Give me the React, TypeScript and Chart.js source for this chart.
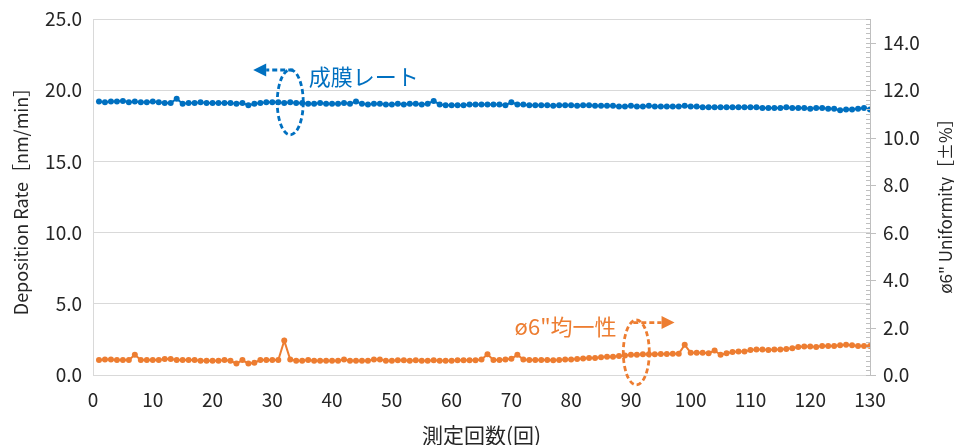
import React, { useEffect, useRef } from "react";
import { Chart, registerables } from "chart.js";

Chart.register(...registerables);

// ---- data ----
const runs: number[] = Array.from({ length: 130 }, (_, i) => i + 1);

const depositionRate: number[] = [
  19.20, 19.15, 19.20, 19.20, 19.25, 19.15, 19.20, 19.15, 19.15, 19.20,
  19.15, 19.10, 19.10, 19.40, 19.05, 19.10, 19.10, 19.15, 19.10, 19.10,
  19.10, 19.10, 19.10, 19.05, 19.10, 18.95, 19.05, 19.10, 19.15, 19.15,
  19.15, 19.10, 19.15, 19.10, 19.10, 19.05, 19.05, 19.10, 19.05, 19.05,
  19.05, 19.10, 19.05, 19.20, 19.05, 19.00, 19.05, 19.05, 19.00, 19.00,
  19.05, 19.00, 19.05, 19.05, 19.00, 19.05, 19.25, 19.00, 18.95, 18.95,
  18.95, 18.95, 19.00, 19.00, 19.00, 19.00, 19.00, 19.00, 18.95, 19.15,
  19.00, 19.00, 18.95, 18.95, 18.95, 18.95, 18.90, 18.95, 18.95, 18.95,
  18.90, 18.95, 18.95, 18.90, 18.90, 18.90, 18.90, 18.85, 18.85, 18.90,
  18.85, 18.85, 18.90, 18.85, 18.85, 18.85, 18.85, 18.85, 18.90, 18.85,
  18.85, 18.80, 18.80, 18.80, 18.80, 18.80, 18.80, 18.80, 18.80, 18.80,
  18.80, 18.75, 18.75, 18.75, 18.75, 18.80, 18.75, 18.75, 18.75, 18.70,
  18.75, 18.75, 18.70, 18.70, 18.60, 18.65, 18.65, 18.70, 18.75, 18.65,
];

const uniformity: number[] = [
  0.63, 0.65, 0.65, 0.63, 0.63, 0.63, 0.85, 0.63, 0.63, 0.63,
  0.63, 0.67, 0.67, 0.63, 0.63, 0.63, 0.63, 0.60, 0.60, 0.60,
  0.60, 0.63, 0.60, 0.48, 0.63, 0.48, 0.52, 0.63, 0.63, 0.63,
  0.63, 1.45, 0.65, 0.60, 0.60, 0.63, 0.60, 0.60, 0.60, 0.60,
  0.60, 0.65, 0.60, 0.60, 0.60, 0.60, 0.65, 0.65, 0.60, 0.60,
  0.62, 0.62, 0.60, 0.62, 0.60, 0.60, 0.62, 0.60, 0.60, 0.60,
  0.62, 0.62, 0.62, 0.62, 0.65, 0.87, 0.63, 0.63, 0.65, 0.68,
  0.85, 0.65, 0.63, 0.63, 0.63, 0.63, 0.62, 0.63, 0.65, 0.65,
  0.67, 0.70, 0.72, 0.72, 0.75, 0.77, 0.77, 0.80, 0.82, 0.85,
  0.85, 0.87, 0.87, 0.87, 0.88, 0.88, 0.90, 0.90, 1.27, 0.94,
  0.94, 0.94, 0.92, 1.03, 0.85, 0.92, 0.97, 0.99, 0.99, 1.05,
  1.07, 1.07, 1.05, 1.07, 1.07, 1.10, 1.13, 1.18, 1.20, 1.20,
  1.18, 1.22, 1.22, 1.22, 1.25, 1.27, 1.25, 1.22, 1.22, 1.22,
];

const xTitle = "測定回数(回)";
const leftTitle = "Deposition Rate［nm/min］";
const rightTitle = "ø6\" Uniformity［±%］";
const rateLabel = "成膜レート";
const uniformityLabel = "ø6\"均一性";

const BLUE = "#0070C0";
const ORANGE = "#ED7D31";
const GRID = "#d9d9d9";
const TEXT = "#262626";
const FONT = "'Noto Sans CJK JP', 'Noto Sans', sans-serif";

// annotation anchors in data units
const rateNote = { ex: 33, ey: 19.15, arrowY: 21.42, arrowTo: 26.8, textX: 36.1, textY: 20.95 };
const unifNote = { ex: 90.9, ey: 0.95, arrowY: 2.21, arrowTo: 97.3, textX: 87.6, textY: 2.03 };

function drawNote(ctx: CanvasRenderingContext2D, xs: any, ys: any, n: any, color: string, label: string, dir: number) {
  const cx = xs.getPixelForValue(n.ex);
  const cy = ys.getPixelForValue(n.ey);
  const ay = ys.getPixelForValue(n.arrowY);
  const tip = xs.getPixelForValue(n.arrowTo);
  const rx = 13, ry = 32.5;
  ctx.save();
  ctx.strokeStyle = color;
  ctx.fillStyle = color;
  ctx.lineWidth = 2.8;
  ctx.setLineDash([5, 3]);
  ctx.beginPath();
  ctx.ellipse(cx, cy, rx, ry, 0, 0, Math.PI * 2);
  ctx.stroke();
  const head = 13;
  ctx.beginPath();
  ctx.moveTo(cx + 3 * (-dir), ay);
  ctx.lineTo(tip - dir * head, ay);
  ctx.stroke();
  ctx.setLineDash([]);
  ctx.beginPath();
  ctx.moveTo(tip, ay);
  ctx.lineTo(tip - dir * head, ay - 6.5);
  ctx.lineTo(tip - dir * head, ay + 6.5);
  ctx.closePath();
  ctx.fill();
  ctx.font = `22px ${FONT}`;
  ctx.textBaseline = "middle";
  const tx = xs.getPixelForValue(n.textX);
  const ty = ys.getPixelForValue(n.textY);
  ctx.textAlign = dir < 0 ? "left" : "right";
  ctx.fillText(label, tx, ty);
  ctx.restore();
}

const extrasPlugin = {
  id: "extras",
  afterDraw(chart: any) {
    const { ctx, scales, chartArea } = chart;
    const xs = scales.x, yL = scales.y, yR = scales.y1;
    ctx.save();
    ctx.strokeStyle = "#bfbfbf";
    ctx.lineWidth = 1;
    ctx.beginPath();
    ctx.moveTo(chartArea.right + 0.5, chartArea.top);
    ctx.lineTo(chartArea.right + 0.5, chartArea.bottom);
    ctx.stroke();
    for (let k = 0; k <= 75; k++) {
      const v = k * 0.2;
      const py = Math.round(yR.getPixelForValue(v)) + 0.5;
      const major = k % 10 === 0;
      ctx.beginPath();
      ctx.moveTo(chartArea.right - 4, py);
      ctx.lineTo(chartArea.right + (major ? 6 : 1), py);
      ctx.stroke();
    }
    ctx.restore();
    ctx.save();
    ctx.fillStyle = TEXT;
    ctx.font = `17px ${FONT}`;
    ctx.textAlign = "center";
    ctx.textBaseline = "middle";
    ctx.translate(946, (chartArea.top + chartArea.bottom) / 2 + 5);
    ctx.rotate(-Math.PI / 2);
    ctx.fillText(rightTitle, 0, 0);
    ctx.restore();
    drawNote(ctx, xs, yL, rateNote, BLUE, rateLabel, -1);
    drawNote(ctx, xs, yR, unifNote, ORANGE, uniformityLabel, 1);
  },
};

export default function App() {
  const ref = useRef<HTMLCanvasElement | null>(null);
  useEffect(() => {
    if (!ref.current) return;
    const chart = new Chart(ref.current, {
      type: "line",
      data: {
        datasets: [
          {
            label: rateLabel,
            data: runs.map((r, i) => ({ x: r, y: depositionRate[i] })),
            yAxisID: "y",
            borderColor: BLUE,
            backgroundColor: BLUE,
            borderWidth: 2,
            pointRadius: 3,
            pointBorderWidth: 0,
            tension: 0,
          },
          {
            label: uniformityLabel,
            data: runs.map((r, i) => ({ x: r, y: uniformity[i] })),
            yAxisID: "y1",
            borderColor: ORANGE,
            backgroundColor: ORANGE,
            borderWidth: 2,
            pointRadius: 3,
            pointBorderWidth: 0,
            tension: 0,
          },
        ],
      },
      options: {
        animation: false,
        responsive: false,
        devicePixelRatio: 1,
        layout: { padding: { top: 19, left: 0, right: 0, bottom: 0 } },
        plugins: { legend: { display: false }, tooltip: { enabled: false } },
        scales: {
          x: {
            type: "linear",
            min: 0,
            max: 130,
            grid: { display: false, drawTicks: false },
            border: { display: true, color: GRID },
            ticks: { stepSize: 10, color: TEXT, font: { family: FONT, size: 19 }, padding: 13, maxRotation: 0 },
            title: { display: true, text: xTitle, color: TEXT, font: { family: FONT, size: 21 }, padding: { top: 0, bottom: -3 } },
            afterFit: (s: any) => { s.height = 70; s.paddingLeft = 0; s.paddingRight = 0; },
          },
          y: {
            position: "left",
            min: 0,
            max: 25,
            grid: { color: GRID, drawTicks: false },
            border: { display: true, color: GRID },
            ticks: { stepSize: 5, color: TEXT, font: { family: FONT, size: 19 }, padding: 11, callback: (v: any) => Number(v).toFixed(1) },
            title: { display: true, text: leftTitle, color: TEXT, font: { family: FONT, size: 18 }, padding: { top: 10, bottom: 0 } },
            afterFit: (s: any) => { s.width = 93; s.paddingTop = 0; s.paddingBottom = 0; },
          },
          y1: {
            position: "right",
            min: 0,
            max: 15,
            grid: { display: false, drawTicks: false },
            border: { display: false },
            ticks: { stepSize: 2, color: TEXT, font: { family: FONT, size: 19 }, padding: 13, callback: (v: any) => Number(v).toFixed(1) },
            afterBuildTicks: (s: any) => { s.ticks = s.ticks.filter((t: any) => Math.abs(t.value % 2) < 1e-9); },
            afterFit: (s: any) => { s.width = 84; s.paddingTop = 0; s.paddingBottom = 0; },
          },
        },
      },
      plugins: [extrasPlugin],
    });
    return () => chart.destroy();
  }, []);
  return (
    <div style={{ position: "absolute", left: 0, top: 0, width: 954, height: 445, background: "#fff" }}>
      <canvas ref={ref} width={954} height={445} />
    </div>
  );
}
